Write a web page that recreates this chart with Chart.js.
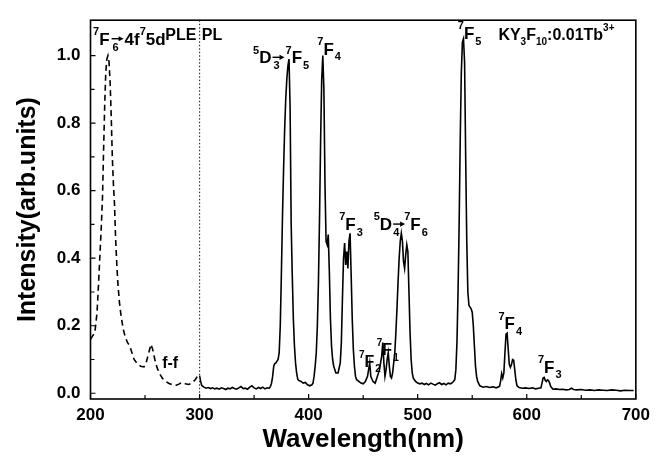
<!DOCTYPE html>
<html><head><meta charset="utf-8">
<script src="https://cdn.jsdelivr.net/npm/chart.js@4/dist/chart.umd.min.js"></script>
<style>html,body{margin:0;padding:0;background:#fff}#wrap{width:656px;height:456px}</style>
</head><body><div id="wrap"><canvas id="c" width="656" height="456"></canvas></div>
<script>
// PLE (excitation) spectrum, dashed
const pleWavelength = [200,202,204,206,207,208.5,210,211,212,213,214,215,216,217,218,219,220,221,222,223,224,225,226.5,228,230,232,234,236,238,240,243,246,249,251,253,255.5,257,259,261,263,266,269,272,275,278,281,284,287,290,293,296,298,300];
const pleIntensity  = [0.16,0.17,0.18,0.24,0.30,0.40,0.50,0.58,0.72,0.85,0.95,0.99,1.0,0.98,0.92,0.82,0.70,0.62,0.56,0.46,0.39,0.33,0.27,0.23,0.19,0.165,0.15,0.14,0.12,0.10,0.087,0.08,0.078,0.09,0.115,0.145,0.13,0.10,0.076,0.06,0.044,0.035,0.029,0.025,0.023,0.027,0.032,0.028,0.026,0.03,0.04,0.05,0.052];

// PL (emission) spectrum, solid
const plWavelength = [300,301,302,304,306,308,310,312,314,316,318,320,322,324,326,328,330,332,334,336,338,340,342,344,346,348,350,352,354,356,358,360,362,364,365,366,367,368,369,370,371,372,373,374,375,376,377,378,379,380,381,382,383,384,385,386,387,388,389,390,391,393,395,397,399,401,403,404,405,406,407,408,409,410,411,412,413,414,415,416,417,418,419,420,421,422,423,425,427,429,430,431,432,433,434,435,436,437,438,439,440,441,442,443,444,446,448,450,452,454,455,456,457,459,461,463,465,466,467,468,469,470,471,472,473,474,475,476,477,478,479,480,481,482,483,484,485,486,487,488,489,490,491,492,493,494,495,496,498,500,502,504,506,508,510,512,514,516,518,520,522,524,526,528,530,532,534,535,536,537,538,539,540,541,542,543,544,545,546,547,548,549,550,551,552,553,554,555,557,560,563,566,569,572,575,576,577,578,579,580,581,582,583,584,585,586,587,588,589,590,591,593,596,599,602,605,608,611,613,614,615,616,617,618,619,620,621,622,624,627,630,633,636,639,641,643,646,650,654,658,662,666,670,674,678,682,686,690,694,698,700];
const plIntensity  = [0.052,0.035,0.023,0.018,0.015,0.017,0.014,0.016,0.013,0.015,0.012,0.016,0.014,0.011,0.015,0.013,0.017,0.014,0.012,0.016,0.020,0.014,0.015,0.012,0.018,0.022,0.016,0.013,0.017,0.014,0.018,0.013,0.016,0.015,0.02,0.03,0.05,0.08,0.088,0.09,0.095,0.10,0.12,0.20,0.35,0.52,0.66,0.78,0.87,0.93,0.97,0.99,0.85,0.50,0.35,0.22,0.14,0.09,0.06,0.042,0.038,0.035,0.030,0.032,0.025,0.022,0.025,0.03,0.05,0.08,0.12,0.20,0.33,0.52,0.75,0.93,1.0,0.90,0.62,0.45,0.44,0.47,0.36,0.22,0.14,0.10,0.08,0.06,0.06,0.09,0.15,0.28,0.40,0.445,0.38,0.42,0.37,0.45,0.474,0.35,0.22,0.13,0.08,0.05,0.04,0.035,0.03,0.028,0.035,0.05,0.07,0.09,0.05,0.035,0.03,0.05,0.07,0.09,0.11,0.15,0.09,0.05,0.07,0.10,0.12,0.08,0.05,0.045,0.06,0.09,0.12,0.18,0.25,0.33,0.40,0.45,0.474,0.45,0.39,0.37,0.41,0.44,0.42,0.30,0.18,0.10,0.06,0.045,0.035,0.03,0.028,0.03,0.026,0.029,0.025,0.03,0.027,0.024,0.028,0.031,0.026,0.029,0.025,0.03,0.028,0.032,0.04,0.07,0.15,0.30,0.50,0.75,0.95,1.04,1.05,0.98,0.70,0.45,0.30,0.26,0.255,0.25,0.24,0.20,0.14,0.08,0.05,0.035,0.022,0.018,0.02,0.017,0.019,0.016,0.02,0.035,0.058,0.045,0.06,0.12,0.175,0.178,0.13,0.085,0.077,0.085,0.10,0.098,0.07,0.04,0.023,0.017,0.015,0.016,0.014,0.016,0.013,0.015,0.016,0.03,0.045,0.047,0.038,0.035,0.04,0.038,0.03,0.02,0.012,0.013,0.011,0.012,0.01,0.011,0.015,0.011,0.01,0.011,0.009,0.01,0.008,0.01,0.009,0.008,0.01,0.009,0.007,0.009,0.008,0.008];

const xTickValues = [200,300,400,500,600,700];
const xMinorValues = [250,350,450,550,650];
const yTickValues = [0,0.2,0.4,0.6,0.8,1.0];
const yMinorValues = [0.1,0.3,0.5,0.7,0.9];

const xTitle = 'Wavelength(nm)';
const yTitle = 'Intensity(arb.units)';
const dividerWavelength = 300;

// annotations: anchor in data coords (wavelength, intensity) = left edge / baseline
// segment: [kind, text, dx, hold]; kind 'arr' is a drawn arrow of width given by text length
const labels = [
  {x:202.4, y:1.032, size:17, segs:[['sup','7'],['n','F'],['sub','6',3,true],['arr','',2],['n','4f',1],['sup','7'],['n','5d']]},
  {x:268.5, y:1.047, size:16, segs:[['n','PLE']]},
  {x:302.0, y:1.047, size:16, segs:[['n','PL']]},
  {x:349.1, y:0.977, size:17, segs:[['sup','5'],['n','D'],['sub','3',2,true],['arr','',1],['sup','7',1],['n','F'],['sub','5',1]]},
  {x:408.0, y:1.003, size:17, segs:[['sup','7'],['n','F'],['sub','4',1]]},
  {x:536.8, y:1.049, size:17, segs:[['sup','7'],['n','F'],['sub','5',1]]},
  {x:574.0, y:1.047, size:16, segs:[['n','KY'],['sub','3'],['n','F'],['sub','10'],['n',':0.01Tb'],['sup','3+']]},
  {x:428.0, y:0.483, size:17, segs:[['sup','7'],['n','F'],['sub','3',1]]},
  {x:459.7, y:0.483, size:17, segs:[['sup','5'],['n','D'],['sub','4',1,true],['arr','',1],['sup','7',-1],['n','F'],['sub','6',1]]},
  {x:446.2, y:0.078, size:16, segs:[['sup','7'],['n','F'],['sub','2',1]]},
  {x:462.5, y:0.113, size:16, segs:[['sup','7'],['n','F'],['sub','1',1]]},
  {x:265.7, y:0.076, size:16, segs:[['n','f-f']]},
  {x:574.0, y:0.189, size:17, segs:[['sup','7'],['n','F'],['sub','4',1]]},
  {x:610.2, y:0.061, size:17, segs:[['sup','7'],['n','F'],['sub','3',1]]}
];

const FONT = '"Liberation Sans", Arial, Helvetica, sans-serif';

function drawArrow(ctx, x0, yMid, w) {
  ctx.save();
  ctx.lineWidth = 1.4;
  ctx.beginPath(); ctx.moveTo(x0, yMid); ctx.lineTo(x0 + w - 4, yMid); ctx.stroke();
  ctx.beginPath();
  ctx.moveTo(x0 + w, yMid); ctx.lineTo(x0 + w - 5, yMid - 2.6); ctx.lineTo(x0 + w - 5, yMid + 2.6); ctx.closePath();
  ctx.fill();
  ctx.restore();
}

function drawRich(ctx, x, y, segs, size) {
  let cx = x;
  ctx.textBaseline = 'alphabetic';
  ctx.textAlign = 'left';
  for (const [k, t, dx = 0, hold = false] of segs) {
    if (k === 'arr') {
      const w = Math.round(size * 0.68);
      drawArrow(ctx, cx + dx, y - size * 0.36, w);
      cx += w + dx;
      continue;
    }
    let fs = size, dy = 0;
    if (k === 'sup') { fs = Math.round(size * 0.62); dy = -size * 0.58; }
    else if (k === 'sub') { fs = Math.round(size * 0.62); dy = size * 0.34; }
    ctx.font = 'bold ' + fs + 'px ' + FONT;
    ctx.fillText(t, cx + dx, y + dy);
    if (!hold) cx += ctx.measureText(t).width + dx;
  }
}

const decor = {
  id: 'decor',
  afterDatasetsDraw(chart) {
    const {ctx, chartArea: a, scales: {x, y}} = chart;
    ctx.save();
    // divider dotted line
    ctx.strokeStyle = '#333';
    ctx.lineWidth = 1.2;
    ctx.setLineDash([1.5, 2]);
    const dxp = x.getPixelForValue(dividerWavelength);
    ctx.beginPath(); ctx.moveTo(dxp, a.top); ctx.lineTo(dxp, a.bottom); ctx.stroke();
    ctx.setLineDash([]);
    // frame
    ctx.strokeStyle = '#000';
    ctx.lineWidth = 1.6;
    ctx.strokeRect(a.left, a.top, a.right - a.left, a.bottom - a.top);
    // inward ticks
    ctx.lineWidth = 1.2;
    ctx.beginPath();
    for (const v of xTickValues) { const p = x.getPixelForValue(v); ctx.moveTo(p, a.bottom); ctx.lineTo(p, a.bottom - 5); }
    for (const v of xMinorValues) { const p = x.getPixelForValue(v); ctx.moveTo(p, a.bottom); ctx.lineTo(p, a.bottom - 4); }
    for (const v of yTickValues) { const p = y.getPixelForValue(v); ctx.moveTo(a.left, p); ctx.lineTo(a.left + 5, p); }
    for (const v of yMinorValues) { const p = y.getPixelForValue(v); ctx.moveTo(a.left, p); ctx.lineTo(a.left + 4, p); }
    ctx.stroke();
    // annotations
    ctx.fillStyle = '#000';
    ctx.strokeStyle = '#000';
    for (const L of labels) {
      drawRich(ctx, x.getPixelForValue(L.x), y.getPixelForValue(L.y), L.segs, L.size);
    }
    ctx.restore();
  }
};

const toPts = (xs, ys) => xs.map((v, i) => ({x: v, y: ys[i]}));

new Chart(document.getElementById('c'), {
  type: 'line',
  data: {
    datasets: [
      {label: 'PLE', data: toPts(pleWavelength, pleIntensity), borderColor: '#000', borderWidth: 1.6, borderDash: [6, 4], pointRadius: 0, tension: 0, fill: false},
      {label: 'PL', data: toPts(plWavelength, plIntensity), borderColor: '#000', borderWidth: 1.6, pointRadius: 0, tension: 0, fill: false}
    ]
  },
  options: {
    responsive: false,
    animation: false,
    devicePixelRatio: 1,
    layout: {padding: {top: 13, right: 14, left: 9, bottom: 0}},
    plugins: {legend: {display: false}, tooltip: {enabled: false}},
    scales: {
      x: {
        type: 'linear', min: 200, max: 700,
        afterBuildTicks: s => { s.ticks = xTickValues.map(v => ({value: v})); },
        afterFit: s => { s.height = 57; },
        grid: {display: true, drawOnChartArea: false, drawTicks: false},
        border: {display: false},
        ticks: {color: '#000', padding: 6, font: {family: FONT, size: 17, weight: 'bold'}, callback: v => String(v), maxRotation: 0},
        title: {display: true, text: xTitle, color: '#000', font: {family: FONT, size: 26, weight: 'bold'}, padding: {top: 2, bottom: 1}}
      },
      y: {
        type: 'linear', min: -0.017, max: 1.105,
        afterBuildTicks: s => { s.ticks = yTickValues.map(v => ({value: v})); },
        afterFit: s => { s.width = 81.5; },
        grid: {display: true, drawOnChartArea: false, drawTicks: false},
        border: {display: false},
        ticks: {color: '#000', padding: 10, font: {family: FONT, size: 17, weight: 'bold'}, callback: v => v.toFixed(1)},
        title: {display: true, text: yTitle, color: '#000', font: {family: FONT, size: 25, weight: 'bold'}, padding: {top: 4, bottom: 4}}
      }
    }
  },
  plugins: [decor]
});
</script>
</body></html>
